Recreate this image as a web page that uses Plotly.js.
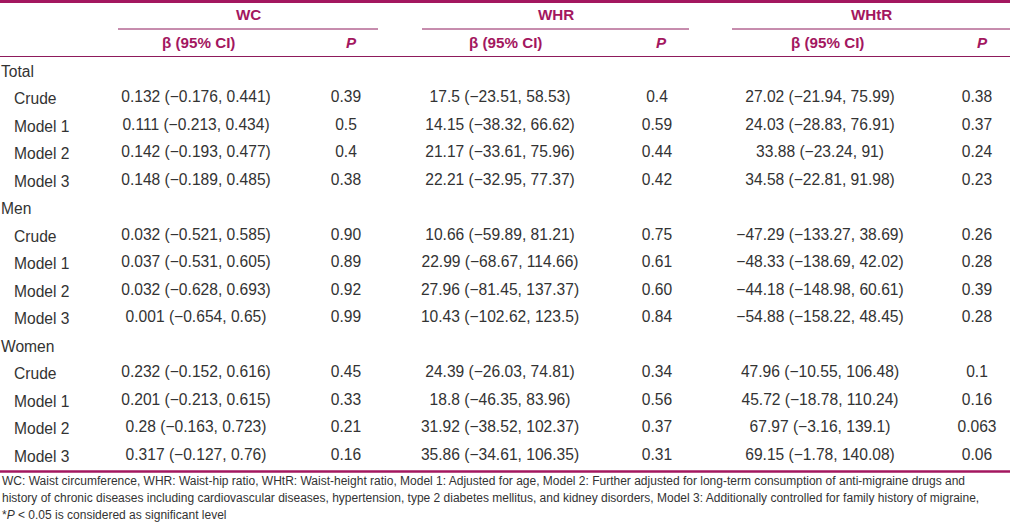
<!DOCTYPE html>
<html>
<head>
<meta charset="utf-8">
<script src="https://cdn.plot.ly/plotly-3.0.1.min.js"></script>
<style>html,body{margin:0;padding:0;background:#fff;}#chart{width:1010px;height:524px;}</style>
</head>
<body>
<div id="chart"></div>
<script>
// ---- data ----
const groups = ["Total", "Men", "Women"];
const models = ["Crude", "Model 1", "Model 2", "Model 3"];
const measures = ["WC", "WHR", "WHtR"];
const subHeads = ["β (95% CI)", "P"];

const wcBeta = [
  "0.132 (−0.176, 0.441)", "0.111 (−0.213, 0.434)", "0.142 (−0.193, 0.477)", "0.148 (−0.189, 0.485)",
  "0.032 (−0.521, 0.585)", "0.037 (−0.531, 0.605)", "0.032 (−0.628, 0.693)", "0.001 (−0.654, 0.65)",
  "0.232 (−0.152, 0.616)", "0.201 (−0.213, 0.615)", "0.28 (−0.163, 0.723)", "0.317 (−0.127, 0.76)"];
const wcP = ["0.39", "0.5", "0.4", "0.38", "0.90", "0.89", "0.92", "0.99", "0.45", "0.33", "0.21", "0.16"];

const whrBeta = [
  "17.5 (−23.51, 58.53)", "14.15 (−38.32, 66.62)", "21.17 (−33.61, 75.96)", "22.21 (−32.95, 77.37)",
  "10.66 (−59.89, 81.21)", "22.99 (−68.67, 114.66)", "27.96 (−81.45, 137.37)", "10.43 (−102.62, 123.5)",
  "24.39 (−26.03, 74.81)", "18.8 (−46.35, 83.96)", "31.92 (−38.52, 102.37)", "35.86 (−34.61, 106.35)"];
const whrP = ["0.4", "0.59", "0.44", "0.42", "0.75", "0.61", "0.60", "0.84", "0.34", "0.56", "0.37", "0.31"];

const whtrBeta = [
  "27.02 (−21.94, 75.99)", "24.03 (−28.83, 76.91)", "33.88 (−23.24, 91)", "34.58 (−22.81, 91.98)",
  "−47.29 (−133.27, 38.69)", "−48.33 (−138.69, 42.02)", "−44.18 (−148.98, 60.61)", "−54.88 (−158.22, 48.45)",
  "47.96 (−10.55, 106.48)", "45.72 (−18.78, 110.24)", "67.97 (−3.16, 139.1)", "69.15 (−1.78, 140.08)"];
const whtrP = ["0.38", "0.37", "0.24", "0.23", "0.26", "0.28", "0.39", "0.28", "0.1", "0.16", "0.063", "0.06"];

const footnotes = [
  "WC: Waist circumference, WHR: Waist-hip ratio, WHtR: Waist-height ratio, Model 1: Adjusted for age, Model 2: Further adjusted for long-term consumption of anti-migraine drugs and",
  "history of chronic diseases including cardiovascular diseases, hypertension, type 2 diabetes mellitus, and kidney disorders, Model 3: Additionally controlled for family history of migraine,",
  "*<i>P</i> &lt; 0.05 is considered as significant level"];

// ---- layout helpers ----
const MAG = "#a3175f";
const LINE = "#8e1a5c";
const TXT = "#333333";
const FONT = "Liberation Sans, Arial, sans-serif";
const FS = 15.6;

const groupY = [], rowY = [];
groups.forEach((g, gi) => {
  groupY.push(gi * 5);
  models.forEach((m, mi) => rowY.push(gi * 5 + mi + 1));
});
const rowLabels = [];
groups.forEach(() => models.forEach(m => rowLabels.push(m)));

const colX = { wcB: 196, wcP: 346, whrB: 500, whrP: 657, whtrB: 820, whtrP: 977 };
const headX = { wcB: 198, wcP: 351, whrB: 505, whrP: 661, whtrB: 827, whtrP: 982 };
const groupSpan = [[118, 378], [422, 689], [732, 1010]];

function textTrace(xv, yv, txt, pos, color, size) {
  return {
    type: "scatter", mode: "text", x: yv.map(() => xv), y: yv, text: txt,
    textposition: pos, hoverinfo: "skip", showlegend: false,
    textfont: { family: FONT, size: size || FS, color: color || TXT }
  };
}

const traces = [
  textTrace(colX.wcB, rowY, wcBeta, "middle center"),
  textTrace(colX.wcP, rowY, wcP, "middle center"),
  textTrace(colX.whrB, rowY, whrBeta, "middle center"),
  textTrace(colX.whrP, rowY, whrP, "middle center"),
  textTrace(colX.whtrB, rowY, whtrBeta, "middle center"),
  textTrace(colX.whtrP, rowY, whtrP, "middle center")
];

const annotations = [];
function ann(x, y, text, opts) {
  annotations.push(Object.assign({
    x: x, y: y, xref: "x", yref: "y", text: text, showarrow: false,
    xanchor: "center", yanchor: "middle",
    font: { family: FONT, size: FS, color: TXT }
  }, opts || {}));
}
groups.forEach((g, i) => ann(0, groupY[i], g, { xanchor: "left", xshift: -1 }));
rowLabels.forEach((l, i) => ann(12, rowY[i], l, { xanchor: "left" }));

const hdrFont = { family: FONT, size: 15.2, color: MAG, weight: "bold" };
measures.forEach((m, i) => ann((groupSpan[i][0] + groupSpan[i][1]) / 2, -2.04, "<b>" + m + "</b>", { font: hdrFont }));
[["wcB", "wcP"], ["whrB", "whrP"], ["whtrB", "whtrP"]].forEach(([b, p]) => {
  ann(headX[b], -1.02, "<b>" + subHeads[0] + "</b>", { font: hdrFont });
  ann(headX[p], -1.02, "<b><i>" + subHeads[1] + "</i></b>", { font: hdrFont });
});
const footY = [14.91, 15.53, 16.15];
footnotes.forEach((f, i) => ann(0, footY[i], f, { xanchor: "left", font: { family: FONT, size: 12.0, color: TXT } }));

const shapes = [];
function hline(x0, x1, y, color, w) {
  shapes.push({ type: "line", xref: "x", yref: "y", x0: x0, x1: x1, y0: y, y1: y, line: { color: color, width: w } });
}
hline(0, 1010, -2.527, MAG, 3);
groupSpan.forEach(s => hline(s[0], s[1], -1.527, LINE, 1));
hline(0, 1010, -0.527, LINE, 1);
hline(0, 1010, 14.565, MAG, 2.5);

const layout = {
  width: 1010, height: 524,
  margin: { l: 0, r: 0, t: 0, b: 0 },
  paper_bgcolor: "#fff", plot_bgcolor: "#fff",
  xaxis: { range: [0, 1010], visible: false, fixedrange: true },
  yaxis: { range: [(524 - 71) / 27.5, -71 / 27.5], visible: false, fixedrange: true },
  showlegend: false,
  annotations: annotations,
  shapes: shapes
};

Plotly.newPlot("chart", traces, layout, { staticPlot: true, displayModeBar: false });
</script>
</body>
</html>
